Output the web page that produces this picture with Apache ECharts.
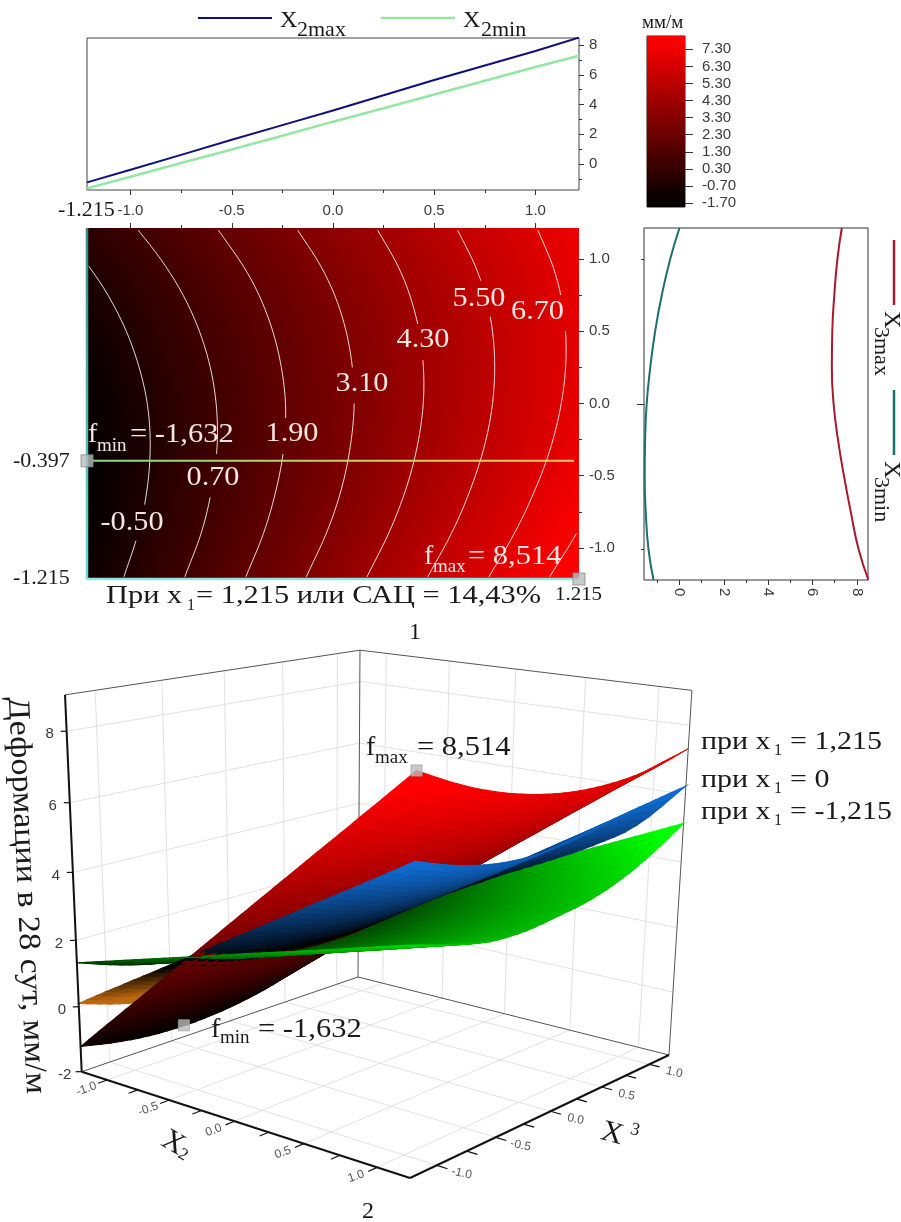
<!DOCTYPE html>
<html><head><meta charset="utf-8">
<style>html,body{margin:0;padding:0;background:#fff}#c{width:901px;height:1222px}</style>
<script src="https://cdn.jsdelivr.net/npm/echarts@6/dist/echarts.min.js"></script>
</head><body><div id="c"></div>
<script>
// ---------- data ----------
const lineX2 = [-1.215,-1,-0.75,-0.5,-0.25,0,0.25,0.5,0.75,1,1.215];
const x2maxLine = [-1.23,-0.38,0.62,1.63,2.62,3.6,4.62,5.65,6.62,7.6,8.5];
const x2minLine = [-1.63,-0.85,0.07,0.98,1.9,2.85,3.75,4.68,5.6,6.52,7.28];
const lineX3 = [-1.215,-1,-0.75,-0.5,-0.25,0,0.25,0.5,0.75,1,1.215];
const x3maxLine = [8.52,8.07,7.73,7.42,7.15,6.95,6.87,6.89,6.98,7.12,7.32];
const x3minLine = [-1.17,-1.4,-1.52,-1.57,-1.55,-1.48,-1.32,-1.1,-0.8,-0.42,0];
const majorTicks = [-1,-0.5,0,0.5,1];
const minorTicks = [-0.75,-0.25,0.25,0.75];
const colorbarTicks = [-1.7,-0.7,0.3,1.3,2.3,3.3,4.3,5.3,6.3,7.3];
const colorbarBands = [-1.95,-1.2,-0.4,0.4,1.2,2,2.8,3.6,4.4,5.2,6,6.8,7.6,8.3];
const gridX2 = [-1.215,-0.9,-0.6,-0.3,0,0.3,0.6,0.9,1.215];
const gridX3 = [-1.215,-0.9,-0.6,-0.3,0,0.3,0.6,0.9,1.215];
// rows follow gridX3, columns follow gridX2
const surfaceMax = [
 [-1.22,0.04,1.24,2.44,3.65,4.85,6.05,7.25,8.51],
 [-1.48,-0.26,0.90,2.07,3.23,4.40,5.56,6.72,7.95],
 [-1.62,-0.43,0.70,1.83,2.95,4.08,5.21,6.34,7.52],
 [-1.64,-0.49,0.60,1.69,2.79,3.88,4.97,6.06,7.21],
 [-1.55,-0.44,0.62,1.67,2.73,3.79,4.84,5.90,7.01],
 [-1.35,-0.27,0.75,1.77,2.79,3.81,4.83,5.85,6.92],
 [-1.03,0,0.99,1.97,2.95,3.94,4.92,5.91,6.94],
 [-0.61,0.39,1.34,2.28,3.23,4.18,5.13,6.08,7.07],
 [-0.04,0.91,1.82,2.74,3.65,4.56,5.47,6.38,7.33]];
const surfaceZero = [
 [0.1,0.91,1.67,2.44,3.2,3.96,4.73,5.49,6.3],
 [-0.3,0.51,1.27,2.04,2.8,3.56,4.33,5.09,5.9],
 [-0.55,0.26,1.02,1.79,2.55,3.31,4.08,4.84,5.65],
 [-0.7,0.11,0.88,1.66,2.43,3.19,3.97,4.74,5.55],
 [-0.75,0.08,0.86,1.64,2.43,3.21,3.99,4.77,5.6],
 [-0.7,0.14,0.93,1.73,2.53,3.32,4.12,4.91,5.75],
 [-0.55,0.3,1.06,1.85,2.62,3.42,4.25,5.08,5.95],
 [-0.3,0.45,1.15,1.95,2.7,3.45,4.2,5.05,6.1],
 [0.1,0.7,1.3,1.95,2.65,3.3,4.0,4.85,6.25]];
const surfaceMin = [
 [1.33,1.7,2.06,2.41,2.77,3.12,3.47,3.83,4.2],
 [0.9,1.28,1.65,2.01,2.38,2.74,3.1,3.47,3.85],
 [0.6,0.99,1.36,1.73,2.1,2.47,2.84,3.21,3.6],
 [0.42,0.83,1.21,1.6,1.99,2.37,2.76,3.14,3.55],
 [0.3,0.74,1.15,1.56,1.98,2.39,2.8,3.21,3.65],
 [0.25,0.71,1.15,1.59,2.03,2.46,2.9,3.34,3.8],
 [0.22,0.72,1.2,1.68,2.16,2.64,3.12,3.6,4.1],
 [0.25,0.81,1.34,1.87,2.4,2.93,3.46,3.99,4.55],
 [0.3,0.93,1.53,2.13,2.73,3.32,3.92,4.52,5.15]];
// contour levels and the x3 span each line leaves open for its label
const contourLevels = [-0.5,0.7,1.9,3.1,4.3,5.5,6.7,7.9];
const contourGaps = [[-0.931,-0.738],[-0.621,-0.393],[-0.301,-0.103],[0.032,0.241],[0.331,0.538],[0.607,0.814],[0.526,0.733],null];
const fminPoint = [-1.215,-0.397,-1.632];
const fmaxPoint = [1.215,-1.215,8.514];
const zTicks = [-2,0,2,4,6,8];

// ---------- helpers ----------
const SERIF = '"Liberation Serif"', SANS = '"Liberation Sans"';
function redRamp(v){const t=Math.max(0,Math.min(1,(v+1.7)/9.6));return 'rgb('+Math.round(255*t)+',0,0)';}
function blueRamp(z){const t=Math.max(0,Math.min(1,(z-1.9)/4.2));return 'rgb('+Math.round(16*t)+','+Math.round(108*t)+','+Math.round(210*t)+')';}
function greenRamp(z){const t=Math.max(0,Math.min(1,(z-0.2)/4.6));return 'rgb(0,'+Math.round(255*t)+',0)';}
function orangeRamp(z){const t=Math.max(0,Math.min(1,(z-0.1)/1.8));return 'rgb('+Math.round(190*(1-t))+','+Math.round(105*(1-t))+','+Math.round(15*(1-t))+')';}
function cr(p0,p1,p2,p3,t){return 0.5*((2*p1)+(-p0+p2)*t+(2*p0-5*p1+4*p2-p3)*t*t+(-p0+3*p1-3*p2+p3)*t*t*t);}
function sampleTable(tb,x2,x3){
  let j=0;while(j<gridX2.length-2&&x2>gridX2[j+1])j++;
  let i=0;while(i<gridX3.length-2&&x3>gridX3[i+1])i++;
  const a=(x2-gridX2[j])/(gridX2[j+1]-gridX2[j]),b=(x3-gridX3[i])/(gridX3[i+1]-gridX3[i]);
  const row=r=>{const Rw=tb[r],n=Rw.length;
    const p1=Rw[j],p2=Rw[j+1],p0=j>0?Rw[j-1]:2*p1-p2,p3=j+2<n?Rw[j+2]:2*p2-p1;return cr(p0,p1,p2,p3,a);};
  const q1=row(i),q2=row(i+1),q0=i>0?row(i-1):2*q1-q2,q3=i+2<tb.length?row(i+2):2*q2-q1;
  return cr(q0,q1,q2,q3,b);
}
// contour of the surfaceMax table: one x2 per x3 step, found by bisection
function contourSegments(level,gap){
  const segs=[];let cur=[];
  for(let k=0;k<=48;k++){
    const x3=-1.2+2.4*k/48;
    const inGap=gap&&x3>gap[0]&&x3<gap[1];
    let x2=null;
    if(!inGap&&sampleTable(surfaceMax,-1.215,x3)<level&&sampleTable(surfaceMax,1.215,x3)>level){
      let lo=-1.215,hi=1.215;
      for(let n=0;n<30;n++){const m=(lo+hi)/2;if(sampleTable(surfaceMax,m,x3)<level)lo=m;else hi=m;}
      x2=(lo+hi)/2;
    }
    if(x2===null){if(cur.length>1)segs.push(cur);cur=[];}else cur.push([x2,x3]);
  }
  if(cur.length>1)segs.push(cur);
  return segs;
}
// 3D view of the box (corners of the floor, vanishing point of the verticals)
const C=[[81.7,1071.7],[410,1178],[669,1055],[358,977]];
const VP=[324,6546], VI=-0.0644, Z0=-2, Z1=9, R=1.215;
const H=(function(){const [p0,p1,p2,p3]=C;
  const dx1=p1[0]-p2[0],dx2=p3[0]-p2[0],sx=p0[0]-p1[0]+p2[0]-p3[0];
  const dy1=p1[1]-p2[1],dy2=p3[1]-p2[1],sy=p0[1]-p1[1]+p2[1]-p3[1];
  const den=dx1*dy2-dx2*dy1,g=(sx*dy2-dx2*sy)/den,h=(dx1*sy-sx*dy1)/den;
  return {a:p1[0]-p0[0]+g*p1[0],b:p3[0]-p0[0]+h*p3[0],c:p0[0],d:p1[1]-p0[1]+g*p1[1],e:p3[1]-p0[1]+h*p3[1],f:p0[1],g,h};})();
function proj(x2,x3,z){const u=(x2+R)/(2*R),v=(x3+R)/(2*R),t=(z-Z0)/(Z1-Z0),it=VI*t;
  const w=H.g*u+H.h*v+1+it;
  return [(H.a*u+H.b*v+H.c+it*VP[0])/w,(H.d*u+H.e*v+H.f+it*VP[1])/w,w];}

// ---------- facets of the three surfaces, far ones first ----------
const SUB=4, facets=[];
[[surfaceMax,0],[surfaceZero,1],[surfaceMin,2]].forEach(([tb,s])=>{
  const xs=[],ys=[];
  for(let j=0;j<gridX2.length-1;j++)for(let k=0;k<SUB;k++)xs.push(gridX2[j]+(gridX2[j+1]-gridX2[j])*k/SUB);xs.push(R);
  for(let i=0;i<gridX3.length-1;i++)for(let k=0;k<SUB;k++)ys.push(gridX3[i]+(gridX3[i+1]-gridX3[i])*k/SUB);ys.push(R);
  for(let i=0;i<ys.length-1;i++)for(let j=0;j<xs.length-1;j++){
    const q=[[xs[j],ys[i]],[xs[j+1],ys[i]],[xs[j+1],ys[i+1]],[xs[j],ys[i+1]]].map(p=>[p[0],p[1],sampleTable(tb,p[0],p[1])]);
    const pr=q.map(p=>proj(p[0],p[1],p[2]));
    const z=(q[0][2]+q[1][2]+q[2][2]+q[3][2])/4;
    const w=(pr[0][2]+pr[1][2]+pr[2][2]+pr[3][2])/4;
    const col=s===0?redRamp(z):s===1?(z<1.9?orangeRamp(z):blueRamp(z)):greenRamp(z);
    facets.push({pr,w,col});
  }
});
facets.sort((a,b)=>b.w-a.w);

// walls and floor lines
const wallLines=[];
majorTicks.forEach(t=>{
  wallLines.push([[-R,t,Z0],[-R,t,Z1]],[[t,R,Z0],[t,R,Z1]],[[t,-R,Z0],[t,R,Z0]],[[-R,t,Z0],[R,t,Z0]]);
});
zTicks.slice(1).forEach(z=>{wallLines.push([[-R,-R,z],[-R,R,z]],[[-R,R,z],[R,R,z]]);});
const thinEdges=[[[-R,-R,Z1],[-R,R,Z1]],[[-R,R,Z1],[R,R,Z1]],[[-R,R,Z0],[-R,R,Z1]],[[R,R,Z0],[R,R,Z1]],[[-R,-R,Z0],[-R,R,Z0]],[[-R,R,Z0],[R,R,Z0]]];
const heavyEdges=[[[-R,-R,Z0],[-R,-R,Z1]],[[-R,-R,Z0],[R,-R,Z0]],[[R,-R,Z0],[R,R,Z0]]];
const all25=majorTicks.concat(minorTicks);
const tickSegs=[];
all25.forEach(t=>{tickSegs.push([[t,-R,Z0],[t,-R-0.07,Z0]],[[R,t,Z0],[R+0.07,t,Z0]]);});

// ---------- heat cells ----------
const heatCells=[];
for(let i=0;i<gridX3.length-1;i++)for(let j=0;j<gridX2.length-1;j++)heatCells.push([i,j]);
function heatItem(params,api){
  const [i,j]=heatCells[params.dataIndex],kids=[],N=6;
  const xa=api.coord([gridX2[j],0])[0],xb=api.coord([gridX2[j+1],0])[0];
  for(let k=0;k<N;k++){
    const f0=k/N,f1=(k+1)/N;
    const y0=api.coord([0,gridX3[i]+(gridX3[i+1]-gridX3[i])*f0])[1],y1=api.coord([0,gridX3[i]+(gridX3[i+1]-gridX3[i])*f1])[1];
    const mid=(f0+f1)/2;
    const vl=surfaceMax[i][j]*(1-mid)+surfaceMax[i+1][j]*mid,vr=surfaceMax[i][j+1]*(1-mid)+surfaceMax[i+1][j+1]*mid;
    kids.push({type:'rect',shape:{x:Math.floor(xa),y:Math.floor(y1),width:Math.ceil(xb-xa)+1,height:Math.ceil(y0-y1)+1},
      style:{fill:new echarts.graphic.LinearGradient(0,0,1,0,[{offset:0,color:redRamp(vl)},{offset:1,color:redRamp(vr)}])}});
  }
  return {type:'group',children:kids};
}

// ---------- axes ----------
const grids=[
 {left:87,top:38,width:492,height:152,show:true,borderColor:'#444',borderWidth:1,backgroundColor:'#fff'},
 {left:87,top:228,width:492,height:351,show:false},
 {left:644,top:228,width:224,height:352,show:true,borderColor:'#333',borderWidth:1},
 {left:647,top:36,width:38,height:171,show:true,borderColor:'#2a1010',borderWidth:1},
 {left:0,top:0,width:901,height:1222,show:false}];
const tickFont={fontFamily:SANS,fontSize:15,color:'#3a3a3a'};
function blankAxis(grid,min,max,extra){return Object.assign({type:'value',gridIndex:grid,min,max,axisLine:{show:false,onZero:false},axisTick:{show:false},axisLabel:{show:false},splitLine:{show:false}},extra||{});}
function tickAxis(grid,min,max,pos,major,minor,lab,fmt,rotate,margin,len){
  const base={type:'value',gridIndex:grid,min,max,position:pos,splitLine:{show:false},axisLine:{show:false,onZero:false}};
  const a=Object.assign({},base,{axisTick:{show:true,length:len||5,customValues:major,lineStyle:{color:'#333'}},
     axisLabel:lab?Object.assign({show:true,margin:margin||8,customValues:major,rotate:rotate||0,formatter:fmt},tickFont):{show:false}});
  const b=Object.assign({},base,{axisTick:{show:true,length:3,customValues:minor,lineStyle:{color:'#333'}},axisLabel:{show:false}});
  return [a,b];
}
const xAxes=[],yAxes=[];
const f1=v=>Number(v).toFixed(1), f0=v=>String(Math.round(v)), f2=v=>Number(v).toFixed(2);
xAxes.push(...tickAxis(0,-R,R,'bottom',majorTicks,minorTicks,true,f1,0,13));
yAxes.push(...tickAxis(0,-1.74,8.47,'right',[0,2,4,6,8],[-1,1,3,5,7],true,f0,0,10));
xAxes.push(...tickAxis(1,-R,R,'top',majorTicks,minorTicks,false));
yAxes.push(...tickAxis(1,-R,R,'right',majorTicks,minorTicks,true,f1,0,10));
xAxes.push(...tickAxis(2,-1.6,8.5,'bottom',[0,2,4,6,8],[-1,1,3,5,7],true,f0,-90,8));
yAxes.push(...tickAxis(2,-R,R,'left',[0],[-1,1],false,null,0,0,7));
xAxes.push(blankAxis(3,0,1));
yAxes.push(tickAxis(3,-1.93,8.08,'right',colorbarTicks,[],true,f2,0,17,8)[0]);
xAxes.push(blankAxis(4,0,901));
yAxes.push(blankAxis(4,0,1222,{inverse:true}));

// ---------- series ----------
const series=[];
const pairs=(xs,ys)=>xs.map((x,i)=>[x,ys[i]]);
const pairsR=(xs,ys)=>xs.map((y,i)=>[ys[i],y]);
series.push({type:'line',name:'x2max',xAxisIndex:0,yAxisIndex:0,data:pairs(lineX2,x2maxLine),showSymbol:false,lineStyle:{color:'#10107c',width:2},z:4});
series.push({type:'line',name:'x2min',xAxisIndex:0,yAxisIndex:0,data:pairs(lineX2,x2minLine),showSymbol:false,lineStyle:{color:'#93e6a4',width:2.5},z:3});
series.push({type:'custom',name:'heat',xAxisIndex:2,yAxisIndex:2,data:heatCells.map((c,i)=>[i]),renderItem:heatItem,clip:true,z:1,silent:true});
contourLevels.forEach((lev,i)=>contourSegments(lev,contourGaps[i]).forEach(seg=>{
  series.push({type:'line',xAxisIndex:2,yAxisIndex:2,data:seg,showSymbol:false,lineStyle:{color:'rgba(255,255,255,0.85)',width:1},z:3,silent:true});
}));
series.push({type:'line',name:'x3cut',xAxisIndex:2,yAxisIndex:2,data:[[-1.19,fminPoint[1]],[1.19,fminPoint[1]]],showSymbol:false,
  lineStyle:{width:2,color:new echarts.graphic.LinearGradient(0,0,1,0,[{offset:0,color:'#86dc78'},{offset:1,color:'#e8cc66'}])},z:4});
series.push({type:'line',xAxisIndex:2,yAxisIndex:2,data:[[-R,-R],[-R,R]],showSymbol:false,lineStyle:{width:2.5,color:new echarts.graphic.LinearGradient(0,0,0,1,[{offset:0,color:'#2e8a8a'},{offset:1,color:'#66dcdc'}])},z:4,clip:false});
series.push({type:'line',xAxisIndex:2,yAxisIndex:2,data:[[-R,-R],[R,-R]],showSymbol:false,lineStyle:{width:2.5,color:'#8de4e6'},z:4,clip:false});
series.push({type:'scatter',xAxisIndex:2,yAxisIndex:2,data:[[fminPoint[0],fminPoint[1]],[fmaxPoint[0],fmaxPoint[1]]],symbol:'rect',symbolSize:12,clip:false,
  itemStyle:{color:'#b9bdbd',borderColor:'#8a8a8a',borderWidth:1},z:6});
series.push({type:'line',name:'x3max',xAxisIndex:4,yAxisIndex:4,data:pairsR(lineX3,x3maxLine),showSymbol:false,lineStyle:{color:'#a8182e',width:2},smooth:0.5,z:3});
series.push({type:'line',name:'x3min',xAxisIndex:4,yAxisIndex:4,data:pairsR(lineX3,x3minLine),showSymbol:false,lineStyle:{color:'#1c6f6a',width:2},smooth:0.5,z:3});
series.push({type:'custom',name:'colorbar',xAxisIndex:6,yAxisIndex:6,data:colorbarBands.slice(0,-1).map((b,i)=>[b,colorbarBands[i+1]]),z:1,silent:true,clip:true,
  renderItem:(p,api)=>{const a=api.value(0),b=api.value(1),p0=api.coord([0,a]),p1=api.coord([1,b]);
    return {type:'rect',shape:{x:p0[0],y:Math.floor(p1[1]),width:p1[0]-p0[0],height:Math.ceil(p0[1]-p1[1])+1},
      style:{fill:new echarts.graphic.LinearGradient(0,0,0,1,[{offset:0,color:redRamp(b)},{offset:1,color:redRamp(a)}])}};}});
// 3D part
function segSeries(list,style,z){return {type:'custom',xAxisIndex:7,yAxisIndex:7,data:list.map((s,i)=>[i]),z,silent:true,clip:false,
  renderItem:(p,api)=>{const s=list[p.dataIndex],a=proj(s[0][0],s[0][1],s[0][2]),b=proj(s[1][0],s[1][1],s[1][2]);
    const A=api.coord([a[0],a[1]]),B=api.coord([b[0],b[1]]);
    return {type:'line',shape:{x1:A[0],y1:A[1],x2:B[0],y2:B[1]},style};}};}
series.push(segSeries(wallLines,{stroke:'#e2e2e2',lineWidth:1},1));
series.push(segSeries(thinEdges,{stroke:'#555',lineWidth:1},1));
series.push({type:'custom',name:'surfaces',xAxisIndex:7,yAxisIndex:7,data:facets.map((f,i)=>[i]),z:2,silent:true,clip:false,progressive:0,
  renderItem:(p,api)=>{const f=facets[p.dataIndex];
    return {type:'polygon',shape:{points:f.pr.map(q=>api.coord([q[0],q[1]]))},style:{fill:f.col,stroke:f.col,lineWidth:1.1}};}});
series.push(segSeries(heavyEdges,{stroke:'#111',lineWidth:2},3));
series.push(segSeries(tickSegs,{stroke:'#111',lineWidth:1.2},3));
function labelSeries(items,size,fill){return {type:'custom',xAxisIndex:7,yAxisIndex:7,data:items.map((s,i)=>[i]),z:4,silent:true,clip:false,
  renderItem:(p,api)=>{const it=items[p.dataIndex],a=proj(it.at[0],it.at[1],it.at[2]),c=api.coord([a[0]+it.dx,a[1]+it.dy]);
    return {type:'text',x:c[0],y:c[1],rotation:it.rot,style:{text:it.text,fill,font:size+'px '+SANS,align:'center',verticalAlign:'middle'}};}};}
const deg=Math.PI/180;
series.push(labelSeries(majorTicks.map(t=>({at:[t,-R,Z0],text:t.toFixed(1),dx:-21,dy:9,rot:20*deg})),12,'#555'));
series.push(labelSeries(majorTicks.map(t=>({at:[R,t,Z0],text:t.toFixed(1),dx:25,dy:8,rot:-12*deg})),12,'#555'));
series.push(labelSeries(zTicks.map(z=>({at:[-R,-R,z],text:String(z),dx:-17,dy:3,rot:0})),15,'#3a3a3a'));
series.push({type:'custom',xAxisIndex:7,yAxisIndex:7,data:zTicks.map(z=>[z]),z:3,silent:true,clip:false,
  renderItem:(p,api)=>{const a=proj(-R,-R,api.value(0)),A=api.coord([a[0],a[1]]);return {type:'line',shape:{x1:A[0]-6,y1:A[1],x2:A[0],y2:A[1]},style:{stroke:'#111',lineWidth:1.2}};}});
const m3=[fminPoint,fmaxPoint].map(p=>{const q=proj(p[0],p[1],p[2]);return [q[0],q[1]];});
series.push({type:'scatter',xAxisIndex:7,yAxisIndex:7,data:m3,symbol:'rect',symbolSize:11,clip:false,itemStyle:{color:'#b9bdbd',borderColor:'#a0a0a0',borderWidth:1},z:6});

// ---------- text ----------
const G=[];
function T(x,y,text,size,o){o=o||{};G.push({type:'text',x,y,z:100,rotation:(o.rot||0)*deg,scaleX:o.sx||1,silent:true,
  style:{text,fill:o.fill||'#1a1a1a',font:size+'px '+(o.family||SERIF),textAlign:o.align||'left',textVerticalAlign:'middle'}});}
function L(x1,y1,x2,y2,c,w){G.push({type:'line',z:100,silent:true,shape:{x1,y1,x2,y2},style:{stroke:c,lineWidth:w}});}
L(198,18,272,18,'#10107c',2); L(381,18,455,18,'#93e6a4',2.5);
T(280,21,'X',24); T(297,30,'2max',22);
T(463,21,'X',24); T(481,30,'2min',22);
L(894,240,894,305,'#a8182e',2.5); L(894,390,894,455,'#1c6f6a',2.5);
T(891,311,'X',24,{rot:-90}); T(881,327,'3max',22,{rot:-90});
T(891,461,'X',24,{rot:-90}); T(881,477,'3min',22,{rot:-90});
T(642,23,'мм/м',19);
T(58,210,'-1.215',22);
T(13,462,'-0.397',20,{sx:1.1}); T(13,579,'-1.215',20,{sx:1.1}); T(555,595,'1.215',19,{sx:1.1});
const W='#f3e6e2';
function C_(x,y,t){T(x,y,t,28,{fill:W,align:'center',sx:1.08});}
C_(479,299,'5.50'); C_(537.5,312,'6.70'); C_(423,340,'4.30'); C_(362,384,'3.10'); C_(292,434,'1.90'); C_(213,478,'0.70'); C_(132,523,'-0.50');
T(88,435,'f',28,{fill:W}); T(97,446,'min',19,{fill:W}); T(130,435,'= -1,632',28,{fill:W,sx:1.09});
T(424,557,'f',28,{fill:W}); T(433,567,'max',19,{fill:W}); T(468,557,'= 8,514',28,{fill:W,sx:1.09});
T(106,596,'При x',26,{sx:1.17}); T(187,606,'1',16); T(196,596,'= 1,215 или САЦ = 14,43%',26,{sx:1.17});
T(415,633,'1',24,{align:'center'});
T(368,1212,'2',24,{align:'center'});
T(366,748,'f',28); T(375,758,'max',19); T(417,748,'= 8,514',28,{sx:1.09});
T(211,1030,'f',28); T(220,1038,'min',19); T(258,1030,'= -1,632',28,{sx:1.09});
T(701,742,'при x',25,{sx:1.2}); T(774,751,'1',16); T(790,742,'= 1,215',25,{sx:1.2});
T(701,780,'при x',25,{sx:1.2}); T(774,789,'1',16); T(790,780,'= 0',25,{sx:1.2});
T(701,812,'при x',25,{sx:1.2}); T(774,821,'1',16); T(790,812,'= -1,215',25,{sx:1.2});
T(17,697,'Деформации в 28 сут, мм/м',31,{rot:-87.4,sx:1.1});
T(173,1143,'X',30,{rot:-30,align:'center'}); T(183,1155,'2',17,{rot:-30,align:'center'});
T(612,1134,'X',30,{rot:-15,align:'center'}); T(635,1130,'3',18,{rot:-15,align:'center'});

const chart=echarts.init(document.getElementById('c'),null,{renderer:'canvas'});
chart.setOption({animation:false,backgroundColor:'#fff',grid:grids,xAxis:xAxes,yAxis:yAxes,series,graphic:{elements:G}});
</script></body></html>
